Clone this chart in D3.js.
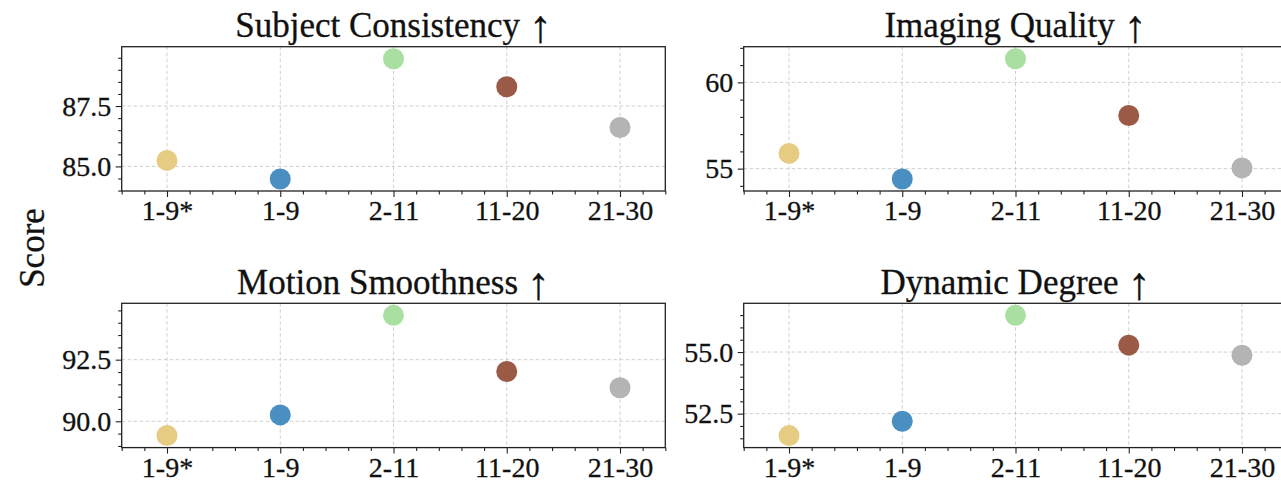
<!DOCTYPE html>
<meta charset="utf-8">
<title>Score by frame range</title>
<style>
body { margin: 0; background: #fff; }
svg { display: block; font-family: "Liberation Serif", "Times New Roman", serif; }
.grid line { stroke: #c4c4c4; stroke-width: 0.8; stroke-dasharray: 3.5,2.5; }
.spine { fill: none; stroke: #222; stroke-width: 1.3; }
</style>
<body>
<script src="https://d3js.org/d3.v7.min.js"></script>
<script>

// frame ranges on the x axis
var categories = ["1-9*", "1-9", "2-11", "11-20", "21-30"];

// scores
var subjectConsistency = [85.25, 84.48, 89.46, 88.30, 86.61];
var imagingQuality     = [55.88, 54.40, 61.37, 58.08, 55.04];
var motionSmoothness   = [89.42, 90.26, 94.30, 92.02, 91.36];
var dynamicDegree      = [51.61, 52.19, 56.49, 55.28, 54.87];

var titles = ["Subject Consistency", "Imaging Quality",
              "Motion Smoothness", "Dynamic Degree"];
var yTicks = [[85.0, 87.5], [55, 60], [90.0, 92.5], [52.5, 55.0]];
var yMinorStep = [0.5, 1, 0.5, 0.5];
var yFormat = [".1f", "d", ".1f", ".1f"];

var pointColors = ["#e6cb82", "#4a8fc1", "#aadfa2", "#9b5a46", "#b4b4b4"];

var series = [subjectConsistency, imagingQuality, motionSmoothness, dynamicDegree];

// layout of the 2x2 grid (right column runs past the window edge, as in the original crop)
var width = 1281, height = 482;
var colLeft = [121.7, 743.7], panelW = 543.6;
var rowTop = [46.7, 303.3], panelH = 144.3;

var svg = d3.select("body").append("svg")
    .attr("width", width)
    .attr("height", height);

svg.append("rect").attr("width", width).attr("height", height).attr("fill", "#fff");

series.forEach(function(values, k) {
  var left = colLeft[k % 2], top = rowTop[Math.floor(k / 2)];
  var g = svg.append("g").attr("transform", "translate(" + left + "," + top + ")");

  var x = d3.scaleLinear().domain([-0.4, 4.4]).range([0, panelW]);
  var lo = d3.min(values), hi = d3.max(values), pad = (hi - lo) * 0.1;
  var y = d3.scaleLinear().domain([lo - pad, hi + pad]).range([panelH, 0]);

  var xMajor = d3.range(categories.length);
  var xMinor = d3.range(-0.4, 4.41, 0.2).filter(function(v) {
    return Math.abs(v - Math.round(v)) > 1e-6;
  });
  var step = yMinorStep[k];
  var yMinor = d3.range(Math.ceil(y.domain()[0] / step) * step, y.domain()[1], step)
    .filter(function(v) { return yTicks[k].every(function(t) { return Math.abs(t - v) > 1e-6; }); });

  // grid
  var grid = g.append("g").attr("class", "grid");
  grid.selectAll(".gx").data(xMajor).enter().append("line")
      .attr("x1", x).attr("x2", x).attr("y1", 0).attr("y2", panelH);
  grid.selectAll(".gy").data(yTicks[k]).enter().append("line")
      .attr("x1", 0).attr("x2", panelW).attr("y1", y).attr("y2", y);

  // points
  g.selectAll("circle").data(values).enter().append("circle")
      .attr("cx", function(d, i) { return x(i); })
      .attr("cy", function(d) { return y(d); })
      .attr("r", 10.5)
      .attr("fill", function(d, i) { return pointColors[i]; });

  // axes
  g.append("g").attr("transform", "translate(0," + panelH + ")")
      .call(d3.axisBottom(x).tickValues(xMajor)
        .tickFormat(function(i) { return categories[i]; })
        .tickSize(6).tickPadding(3.5));
  g.append("g").attr("transform", "translate(0," + panelH + ")")
      .call(d3.axisBottom(x).tickValues(xMinor).tickFormat("").tickSize(3.5));
  g.append("g")
      .call(d3.axisLeft(y).tickValues(yTicks[k]).tickFormat(d3.format(yFormat[k]))
        .tickSize(6).tickPadding(4.5));
  g.append("g")
      .call(d3.axisLeft(y).tickValues(yMinor).tickFormat("").tickSize(3.5));

  g.selectAll(".domain").remove();
  g.selectAll(".tick line").attr("stroke", "#222").attr("stroke-width", 1.1);
  g.selectAll(".tick text")
      .attr("font-family", "Liberation Serif, Times New Roman, serif")
      .attr("font-size", 28)
      .attr("fill", "#111")
      .attr("stroke", "#111")
      .attr("stroke-width", 0.3);

  g.append("rect").attr("class", "spine").attr("width", panelW).attr("height", panelH);

  var t = g.append("text")
      .attr("x", panelW / 2)
      .attr("y", -9.7)
      .attr("text-anchor", "middle")
      .attr("font-size", 35)
      .attr("fill", "#111")
      .attr("stroke", "#111")
      .attr("stroke-width", 0.3);
  t.append("tspan").text(titles[k] + " ");
  t.append("tspan").attr("font-size", 46).attr("dy", 5).text("\u2191");
});

svg.append("text")
    .attr("transform", "translate(44,248) rotate(-90)")
    .attr("text-anchor", "middle")
    .attr("font-size", 35)
    .attr("fill", "#111")
    .attr("stroke", "#111")
    .attr("stroke-width", 0.3)
    .text("Score");

</script>
</body>
